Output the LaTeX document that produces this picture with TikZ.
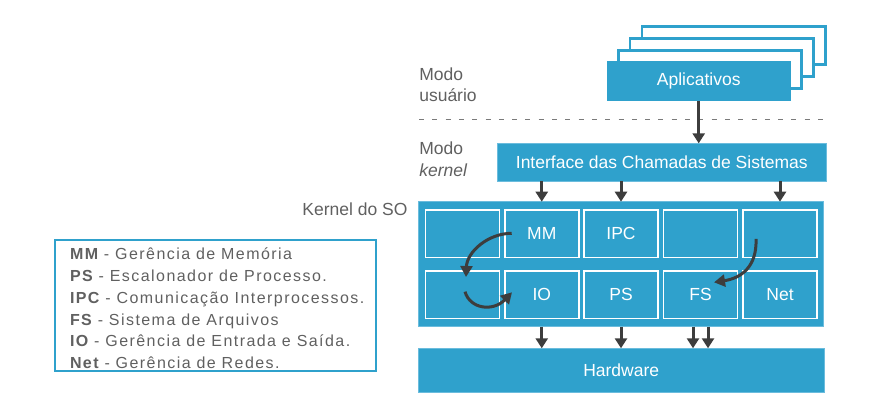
\documentclass[tikz,border=0pt]{standalone}
\usepackage{fontspec}
\setmainfont{Liberation Sans}
\newfontfamily\legendfont[LetterSpace=9]{Liberation Sans}
\usetikzlibrary{arrows.meta}
\definecolor{sblue}{HTML}{2FA1CC}
\definecolor{edgeblue}{HTML}{6BBCDD}
\definecolor{txtgray}{HTML}{606060}
\definecolor{arrgray}{HTML}{3D3D3D}
\definecolor{dashgray}{HTML}{7A7A7A}
\begin{document}
\begin{tikzpicture}[x=1pt,y=-1pt,
  every node/.style={inner sep=0pt, outer sep=0pt},
  mainfont/.style={font=\fontsize{17.5}{21}\selectfont},
  bluebox/.style={fill=sblue, draw=edgeblue, line width=0.6pt, text=white, mainfont},
  backbox/.style={draw=sblue, line width=2.7pt, fill=white, minimum width=183.3pt, minimum height=38pt},
  cellbox/.style={draw=white, line width=1.5pt, fill=sblue, text=white, minimum width=74pt, minimum height=47.8pt, mainfont},
  flow/.style={draw=arrgray, line width=3pt, -{Triangle[width=12pt,length=10pt]}},
  curvearrow/.style={draw=arrgray, line width=3pt, -{Triangle[width=12pt,length=11pt]}},
  modelabel/.style={text=txtgray, mainfont, anchor=base west},
  legendline/.style={text=txtgray, font=\legendfont\fontsize{16}{21}\selectfont, anchor=base west},
]
\useasboundingbox (0,0) rectangle (880,419);

% Application stack
\node[backbox] (app3) at (733.7,45.3) {};
\node[backbox] (app2) at (721.7,57.2) {};
\node[backbox] (app1) at (709.8,69.2) {};
\node[bluebox, draw=none, minimum width=184pt, minimum height=40pt] (app) at (698.7,80.8) {Aplicativos};

% Mode labels
\node[modelabel] (modo1) at (419.3,81) {Modo};
\node[modelabel] (usuario) at (419.3,101.7) {usuário};
\node[modelabel] (modo2) at (419.3,155) {Modo};
\node[modelabel] (kernelw) at (419.3,176.7) {\itshape kernel};
\node[text=txtgray, mainfont, anchor=base east] (kso) at (407.5,215.7) {Kernel do SO};

% Dashed separator
\coordinate (dashL) at (419,119.3);
\coordinate (dashR) at (826,119.3);
\draw[dashgray, line width=1.5pt, dash pattern=on 5pt off 8.3pt] (dashL) -- (dashR);

% Interface
\node[bluebox, minimum width=328.3pt, minimum height=37.7pt] (iface) at (661.8,162.2) {Interface das Chamadas de Sistemas};

% Kernel
\node[fill=sblue, draw=edgeblue, line width=0.6pt, minimum width=405pt, minimum height=125pt] (kernel) at (620.8,264.2) {};
\node[cellbox] (c11) at (462.5,233.7) {};
\node[cellbox] (c12) at (541.75,233.7) {MM};
\node[cellbox] (c13) at (621,233.7) {IPC};
\node[cellbox] (c14) at (700.5,233.7) {};
\node[cellbox] (c15) at (780,233.7) {};
\node[cellbox] (c21) at (462.5,294.7) {};
\node[cellbox] (c22) at (541.75,294.7) {IO};
\node[cellbox] (c23) at (621,294.7) {PS};
\node[cellbox] (c24) at (700.5,294.7) {FS};
\node[cellbox] (c25) at (780,294.7) {Net};

% Hardware
\node[bluebox, minimum width=405.7pt, minimum height=44pt] (hw) at (621.2,370.3) {Hardware};

% Straight arrows
\draw[flow] (app.south) -- (iface.north -| app.south);
\draw[flow] (iface.south -| c12) -- (kernel.north -| c12);
\draw[flow] (iface.south -| c13) -- (kernel.north -| c13);
\draw[flow] (iface.south -| c15) -- (kernel.north -| c15);
\coordinate (fsL) at ([xshift=-7.5pt]c24.center);
\coordinate (fsR) at ([xshift=7.5pt]c24.center);
\draw[flow] (kernel.south -| c22) -- (hw.north -| c22);
\draw[flow] (kernel.south -| c23) -- (hw.north -| c23);
\draw[flow] (kernel.south -| fsL) -- (hw.north -| fsL);
\draw[flow] (kernel.south -| fsR) -- (hw.north -| fsR);

% Curved arrows
\coordinate (mmS) at (511.7,233.3);
\coordinate (mmE) at (466,277);
\coordinate (ioS) at (465,291.7);
\coordinate (ioE) at (512,292.3);
\coordinate (netS) at (756,239);
\coordinate (fsE) at (714,282.3);
\draw[curvearrow] (mmS) .. controls (488,233.3) and (467,252) .. (mmE);
\draw[curvearrow] (ioS) .. controls (470,309) and (493,312) .. (ioE);
\draw[curvearrow] (netS) .. controls (757,266) and (742,278) .. (fsE);

% Legend
\node[draw=sblue, line width=2pt, minimum width=321.3pt, minimum height=130.4pt] (legend) at (215.7,305.5) {};
\node[legendline] (lg1) at (70,259.3) {{\bfseries MM} - Gerência de Memória};
\node[legendline] (lg2) at (70,281.2) {{\bfseries PS} - Escalonador de Processo.};
\node[legendline] (lg3) at (70,303.1) {{\bfseries IPC} - Comunicação Interprocessos.};
\node[legendline] (lg4) at (70,325.0) {{\bfseries FS} - Sistema de Arquivos};
\node[legendline] (lg5) at (70,346.9) {{\bfseries IO} - Gerência de Entrada e Saída.};
\node[legendline] (lg6) at (70,368.8) {{\bfseries Net} - Gerência de Redes.};
\end{tikzpicture}
\end{document}
